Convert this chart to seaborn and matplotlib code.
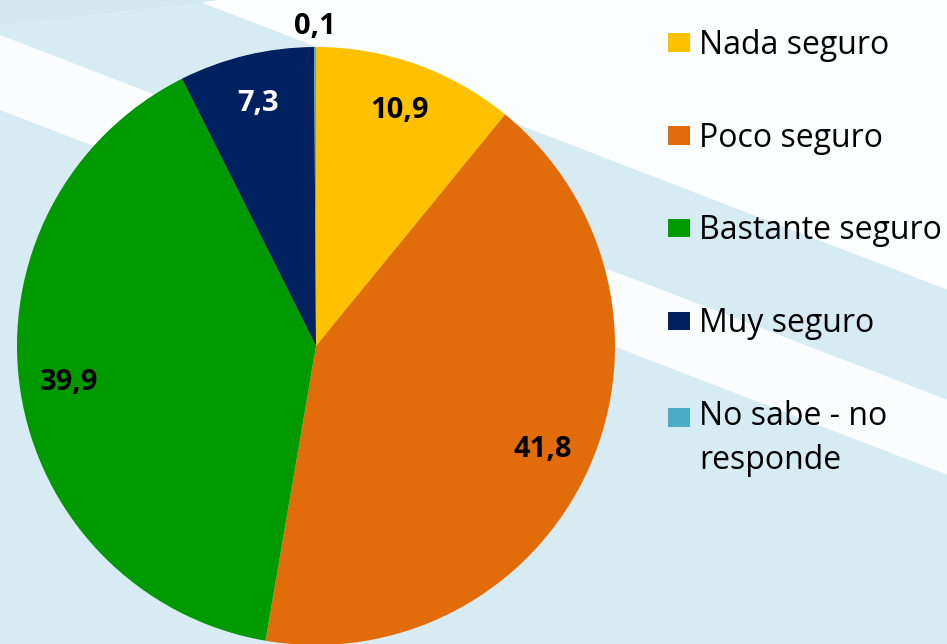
import numpy as np
import seaborn as sns
import matplotlib.pyplot as plt
from matplotlib.patches import Polygon, Patch

categorias = ['Nada seguro', 'Poco seguro', 'Bastante seguro', 'Muy seguro', 'No sabe - no\nresponde']
valores = [10.9, 41.8, 39.9, 7.3, 0.1]
etiquetas = ['10,9', '41,8', '39,9', '7,3', '0,1']
colores = ['#FFC000', '#E36C0A', '#009900', '#002060', '#4BACC6']
color_texto = ['black', 'black', 'black', 'white', 'black']

sns.set_style('white')
plt.rcParams['font.family'] = ['Open Sans', 'DejaVu Sans']
plt.rcParams['text.color'] = 'black'

W, H = 947, 644
fig = plt.figure(figsize=(W / 100, H / 100), dpi=100)
fig.patch.set_facecolor('#d6ebf2')

# fondo con bandas diagonales blancas (coordenadas en pixeles de la imagen)
def banda(pts, color, alpha):
    xy = [(x / W, 1 - y / H) for x, y in pts]
    fig.add_artist(Polygon(xy, closed=True, transform=fig.transFigure,
                           facecolor=color, edgecolor='none', alpha=alpha, zorder=0))

m = 0.385
banda([(0, -80), (W, -80), (W, -75 + m * W), (0, -75)], 'white', 0.95)
banda([(0, 35), (W, 35 + m * W), (W, 110 + m * W), (0, 110)], 'white', 0.9)
banda([(0, 0), (220, 0), (0, 25)], '#d3e7ee', 1.0)

ax = fig.add_axes([17 / W, 1 - 645 / H, 598 / W, 598 / H])
ax.patch.set_alpha(0)
wedges, _ = ax.pie(valores, colors=colores, startangle=90, counterclock=False,
                   wedgeprops=dict(linewidth=0))
ax.set_xlim(-1, 1)
ax.set_ylim(-1, 1)
ax.set_aspect('equal')
ax.axis('off')

# etiquetas de datos
for i, w in enumerate(wedges):
    ang = np.deg2rad((w.theta1 + w.theta2) / 2)
    r = 1.07 if valores[i] < 1 else 0.835
    ax.text(r * np.cos(ang), r * np.sin(ang), etiquetas[i], ha='center', va='center',
            fontsize=21, fontweight='bold', color=color_texto[i], clip_on=False)

handles = [Patch(facecolor=c, edgecolor='none') for c in colores]
leg = fig.legend(handles, categorias, loc='upper left', bbox_to_anchor=(668 / W, 1 - 29 / H),
                 frameon=False, fontsize=23, handlelength=0.68, handleheight=0.52,
                 handletextpad=0.3, labelspacing=1.87, borderaxespad=0, borderpad=0,
                 labelcolor='black')
for t in leg.get_texts():
    t.set_linespacing(1.45)
# el cuadro de la ultima entrada va alineado con la primera linea
ultimo = leg.get_patches()[-1]
ultimo.set_y(ultimo.get_y() + 16)

fig.savefig('out.png', dpi=100)
